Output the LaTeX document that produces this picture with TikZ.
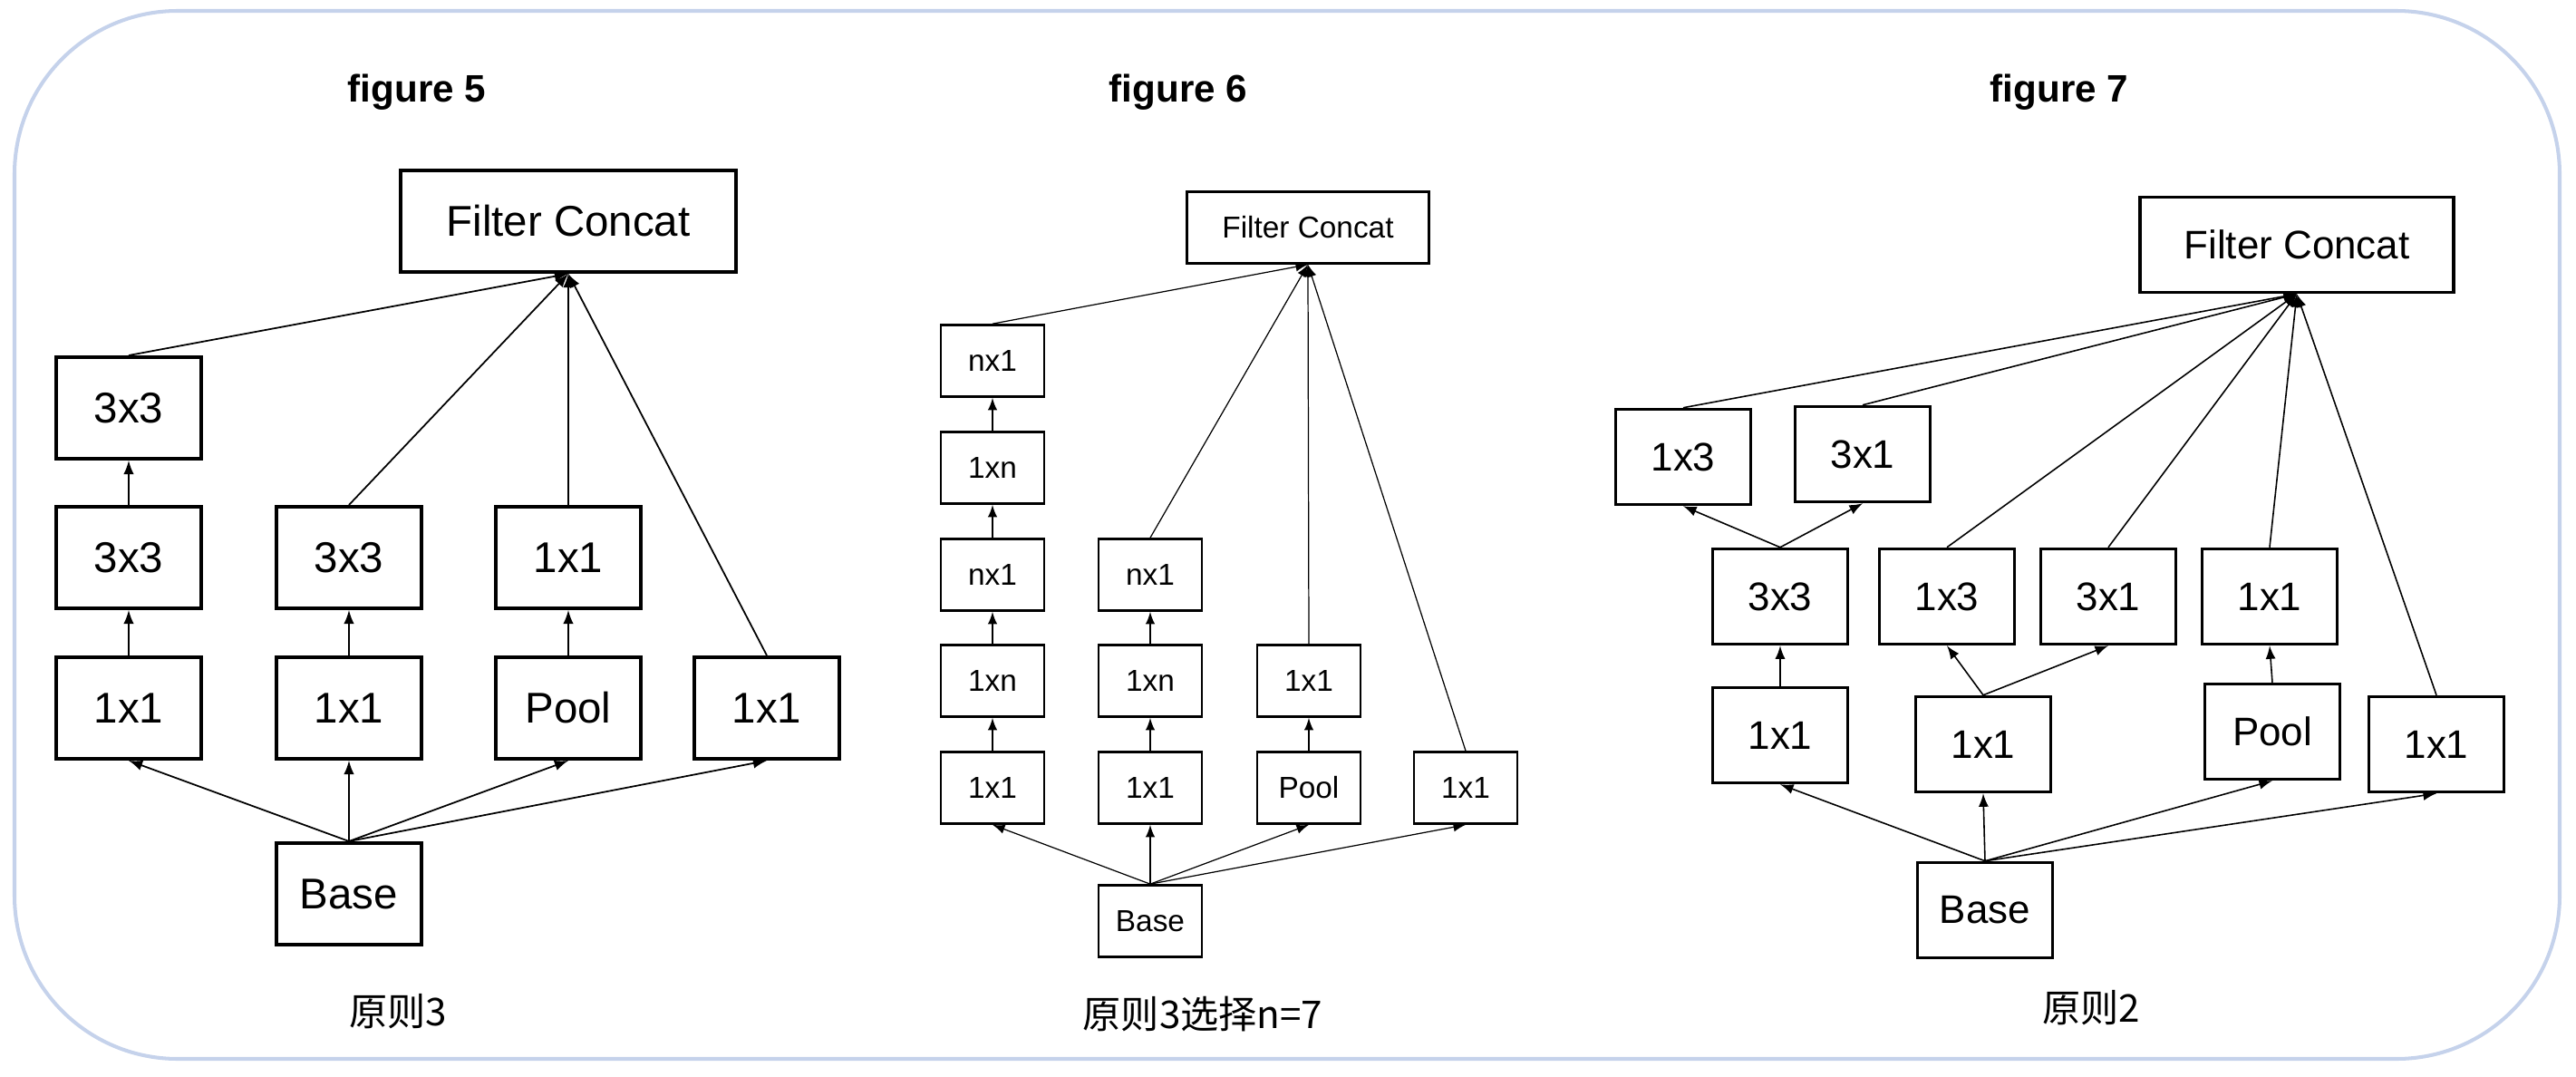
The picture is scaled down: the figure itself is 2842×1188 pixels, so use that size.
\documentclass[tikz,border=0pt]{standalone}
\usepackage{fontspec}
\setmainfont{Liberation Sans}
\newfontfamily\cjk{Noto Sans CJK SC}
\usepackage{tikz}

\definecolor{framecol}{RGB}{197,210,235}

\begin{document}
\begin{tikzpicture}[x=0.1mm, y=-0.1mm,
        blkA/.style={draw, line width=1pt, minimum width=16mm, minimum height=11.25mm, inner sep=0pt, font=\fontsize{13.5pt}{16pt}\selectfont},
        blkB/.style={draw, line width=0.75pt, minimum width=11.4mm, minimum height=7.9mm, inner sep=0pt, font=\fontsize{9.5pt}{11pt}\selectfont},
        blkC/.style={draw, line width=1pt, minimum width=14.9mm, minimum height=10.5mm, inner sep=0pt, font=\fontsize{12.5pt}{15pt}\selectfont},
        figtitle/.style={font=\fontsize{12pt}{14pt}\selectfont\bfseries},
        figcap/.style={font=\fontsize{12pt}{14pt}\selectfont\cjk},
        arrA/.style={-latex, line width=0.5pt},
        arrB/.style={-latex, line width=0.35pt},
        arrC/.style={-latex, line width=0.45pt}]
        \useasboundingbox (0,0) rectangle (2842,1188);

        % Cerceve
        \draw[framecol, line width=1.15pt, rounded corners=18mm] (16,12) rectangle (2824,1168);

        % figure 5
        \node[figtitle] (t5) at (460,102) {figure 5};
        \node[blkA, minimum width=37mm] (fc5) at (627,244) {Filter Concat};
        \node[blkA] (a53) at (142,450) {3x3};
        \node[blkA] (a52) at (142,615) {3x3};
        \node[blkA] (a51) at (142,781) {1x1};
        \node[blkA] (b52) at (385,615) {3x3};
        \node[blkA] (b51) at (385,781) {1x1};
        \node[blkA] (c52) at (627,615) {1x1};
        \node[blkA] (c51) at (627,781) {Pool};
        \node[blkA] (d51) at (846,781) {1x1};
        \node[blkA] (base5) at (385,986) {Base};
        \node[figcap] (cap5) at (439,1116) {原则3};

        \draw[arrA] (base5.north) -- (a51.south);
        \draw[arrA] (base5.north) -- (b51.south);
        \draw[arrA] (base5.north) -- (c51.south);
        \draw[arrA] (base5.north) -- (d51.south);
        \draw[arrA] (a51.north) -- (a52.south);
        \draw[arrA] (a52.north) -- (a53.south);
        \draw[arrA] (b51.north) -- (b52.south);
        \draw[arrA] (c51.north) -- (c52.south);
        \draw[arrA] (a53.north) -- (fc5.south);
        \draw[arrA] (b52.north) -- (fc5.south);
        \draw[arrA] (c52.north) -- (fc5.south);
        \draw[arrA] (d51.north) -- (fc5.south);

        % figure 6
        \node[figtitle] (t6) at (1300,102) {figure 6};
        \node[blkB, minimum width=26.7mm] (fc6) at (1443,251) {Filter Concat};
        \node[blkB] (a65) at (1095,398) {nx1};
        \node[blkB] (a64) at (1095,516) {1xn};
        \node[blkB] (a63) at (1095,634) {nx1};
        \node[blkB] (a62) at (1095,751) {1xn};
        \node[blkB] (a61) at (1095,869) {1x1};
        \node[blkB] (b63) at (1269,634) {nx1};
        \node[blkB] (b62) at (1269,751) {1xn};
        \node[blkB] (b61) at (1269,869) {1x1};
        \node[blkB] (c62) at (1444,751) {1x1};
        \node[blkB] (c61) at (1444,869) {Pool};
        \node[blkB] (d61) at (1617,869) {1x1};
        \node[blkB] (base6) at (1269,1016) {Base};
        \node[figcap] (cap6) at (1327,1119) {原则3选择n=7};

        \draw[arrB] (base6.north) -- (a61.south);
        \draw[arrB] (base6.north) -- (b61.south);
        \draw[arrB] (base6.north) -- (c61.south);
        \draw[arrB] (base6.north) -- (d61.south);
        \draw[arrB] (a61.north) -- (a62.south);
        \draw[arrB] (a62.north) -- (a63.south);
        \draw[arrB] (a63.north) -- (a64.south);
        \draw[arrB] (a64.north) -- (a65.south);
        \draw[arrB] (b61.north) -- (b62.south);
        \draw[arrB] (b62.north) -- (b63.south);
        \draw[arrB] (c61.north) -- (c62.south);
        \draw[arrB] (a65.north) -- (fc6.south);
        \draw[arrB] (b63.north) -- (fc6.south);
        \draw[arrB] (c62.north) -- (fc6.south);
        \draw[arrB] (d61.north) -- (fc6.south);

        % figure 7
        \node[figtitle] (t7) at (2272,102) {figure 7};
        \node[blkC, minimum width=34.6mm] (fc7) at (2534,270) {Filter Concat};
        \node[blkC] (a7l) at (1857,504) {1x3};
        \node[blkC] (a7r) at (2055,501) {3x1};
        \node[blkC] (a72) at (1964,658) {3x3};
        \node[blkC] (b7l) at (2148,658) {1x3};
        \node[blkC] (b7r) at (2326,658) {3x1};
        \node[blkC] (c72) at (2504,658) {1x1};
        \node[blkC] (a71) at (1964,811) {1x1};
        \node[blkC] (b71) at (2188,821) {1x1};
        \node[blkC] (c71) at (2507,807) {Pool};
        \node[blkC] (d71) at (2688,821) {1x1};
        \node[blkC] (base7) at (2190,1004) {Base};
        \node[figcap] (cap7) at (2307,1112) {原则2};

        \draw[arrC] (base7.north) -- (a71.south);
        \draw[arrC] (base7.north) -- (b71.south);
        \draw[arrC] (base7.north) -- (c71.south);
        \draw[arrC] (base7.north) -- (d71.south);
        \draw[arrC] (a71.north) -- (a72.south);
        \draw[arrC] (a72.north) -- (a7l.south);
        \draw[arrC] (a72.north) -- (a7r.south);
        \draw[arrC] (b71.north) -- (b7l.south);
        \draw[arrC] (b71.north) -- (b7r.south);
        \draw[arrC] (c71.north) -- (c72.south);
        \draw[arrC] (a7l.north) -- (fc7.south);
        \draw[arrC] (a7r.north) -- (fc7.south);
        \draw[arrC] (b7l.north) -- (fc7.south);
        \draw[arrC] (b7r.north) -- (fc7.south);
        \draw[arrC] (c72.north) -- (fc7.south);
        \draw[arrC] (d71.north) -- (fc7.south);
    \end{tikzpicture}
\end{document}
